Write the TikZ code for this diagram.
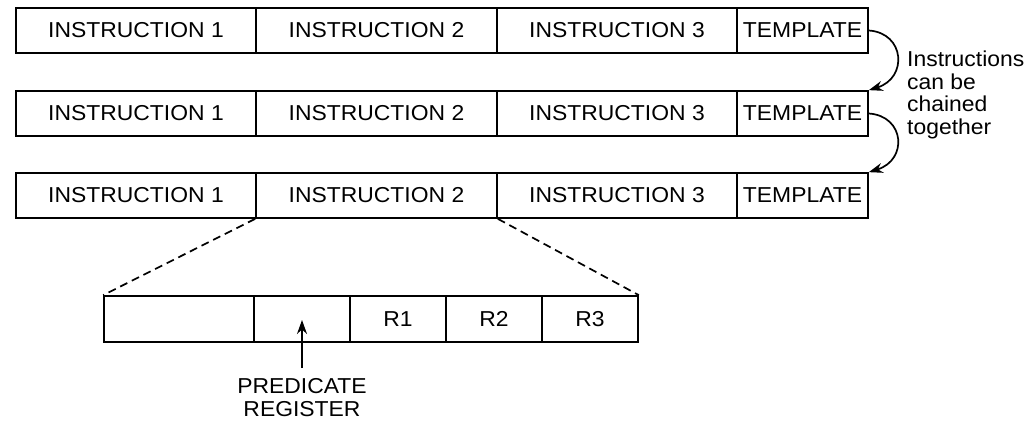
\documentclass[tikz,border=0pt]{standalone}
\usepackage{fontspec}
\setmainfont{Liberation Sans}[FakeStretch=1.06]
\usetikzlibrary{arrows.meta}
\begin{document}
\begin{tikzpicture}[x=1pt,y=-1pt,
  lw/.style={line width=1.7pt},
  cell/.style={draw,lw,rectangle,inner sep=0pt,minimum height=45pt,font=\fontsize{21.6}{24}\selectfont},
  dashline/.style={lw,dash pattern=on 8pt off 5pt},
  arr/.style={lw,-{Stealth[length=14pt,width=10pt]}},
  lbl/.style={inner sep=0pt,font=\fontsize{21.6}{24}\selectfont}]
\useasboundingbox (0,0) rectangle (1032,422);
% rows
\foreach \r/\y in {1/30.5,2/113.5,3/195.5}{
  \node[cell,minimum width=240pt] (r\r a) at (136,\y) {INSTRUCTION 1};
  \node[cell,minimum width=241pt] (r\r b) at (376.5,\y) {INSTRUCTION 2};
  \node[cell,minimum width=240pt] (r\r c) at (617,\y) {INSTRUCTION 3};
  \node[cell,minimum width=131pt] (r\r d) at (802.5,\y) {TEMPLATE};
}
% expanded instruction
\node[cell,minimum height=46pt,minimum width=150pt] (b1) at (179,319) {};
\node[cell,minimum height=46pt,minimum width=96pt] (b2) at (302,319) {};
\node[cell,minimum height=46pt,minimum width=96pt] (b3) at (398,319) {R1};
\node[cell,minimum height=46pt,minimum width=96pt] (b4) at (494,319) {R2};
\node[cell,minimum height=46pt,minimum width=96pt] (b5) at (590,319) {R3};
\draw[dashline] (r3b.south west) -- (b1.north west);
\draw[dashline] (r3b.south east) -- (b5.north east);
% predicate register
\node[lbl,align=center,anchor=north,font=\fontsize{21.6}{23}\selectfont] (pr) at (302,378.5) {PREDICATE\\REGISTER};
\coordinate (ptail) at (302,368);
\coordinate (ptip) at (302,320);
\draw[arr] (ptail) -- (ptip);
% chaining arrows
\draw[arr] (r1d.east) .. controls (905,33) and (908,78) .. (r2d.north east);
\draw[arr] (r2d.east) .. controls (905,116) and (908,160) .. (r3d.north east);
\node[lbl,align=left,anchor=north west,font=\fontsize{21.6}{22.5}\selectfont] (note) at (907,51) {Instructions\\can be\\chained\\together};
\end{tikzpicture}
\end{document}
